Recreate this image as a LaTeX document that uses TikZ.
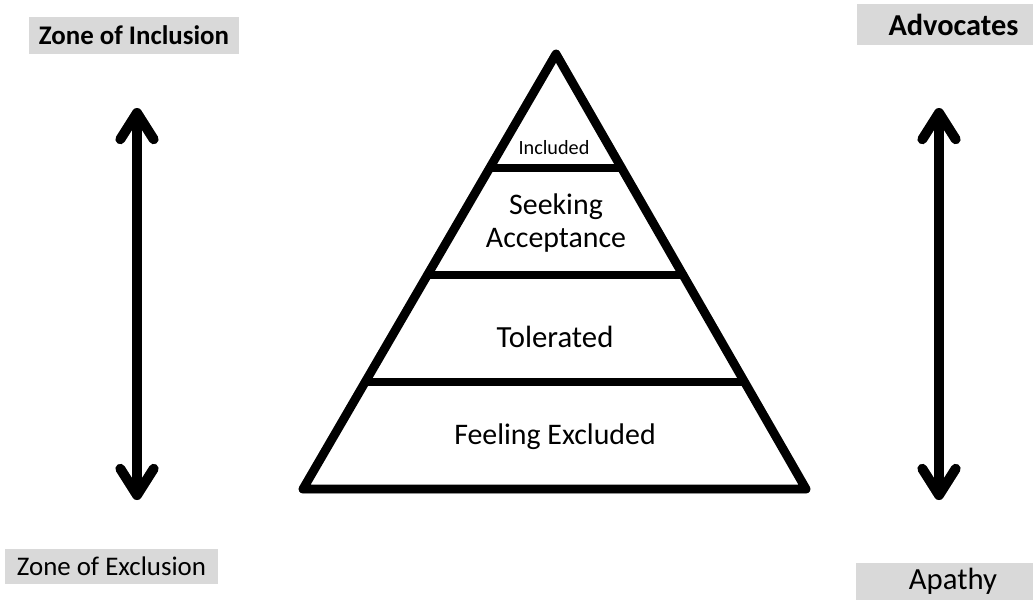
\documentclass[tikz,border=0pt]{standalone}
\usepackage{fontspec}
\setmainfont{Carlito}
\usetikzlibrary{arrows.meta,calc}
\definecolor{tagGray}{HTML}{D9D9D9}
\tikzset{
	tag/.style={fill=tagGray, inner sep=0pt, minimum height=0.74cm},
	level/.style={inner sep=0pt, align=center},
	bar/.style={line width=5pt, line cap=round, line join=round},
	barb/.tip={Straight Barb[length=15pt, width=19pt, line cap=round, line join=round]},
	updown/.style={bar, line width=5.6pt, barb-barb},
	shade/.style={draw=black!35, shift={(1.5,2.5)}}
}

\begin{document}
\begin{tikzpicture}[x=0.02cm, y=-0.02cm]

	\useasboundingbox (0,0) rectangle (1033,600);

	% pyramid corners
	\coordinate (apex) at (556,54);
	\coordinate (bl) at (303,489);
	\coordinate (br) at (806,489);

	% arrow ends
	\coordinate (inTop) at (137,108);
	\coordinate (inBot) at (137,500);
	\coordinate (adTop) at (939,108);
	\coordinate (adBot) at (939,500);

	% shadows
	\draw[bar, shade] (apex) -- (bl) -- (br) -- cycle;
	\draw[updown, shade] (inTop) -- (inBot);
	\draw[updown, shade] (adTop) -- (adBot);

	\draw[bar, fill=white] (apex) -- (bl) -- (br) -- cycle;
	\foreach \f in {0.262,0.508,0.754} {
		\draw[bar] ($(apex)!\f!(bl)$) -- ($(apex)!\f!(br)$);
	}

	\draw[updown] (inTop) -- (inBot);
	\draw[updown] (adTop) -- (adBot);

	\node[level, font=\fontsize{11.5}{13}\selectfont] (included) at (554,148) {Included};
	\node[level, font=\fontsize{17}{19.3}\selectfont] (seeking) at (556,223) {Seeking\\Acceptance};
	\node[level, font=\fontsize{17.5}{20}\selectfont] (tolerated) at (555,337) {Tolerated};
	\node[level, font=\fontsize{17}{20}\selectfont] (excluded) at (555,437) {Feeling Excluded};

	% side labels
	\node[tag, minimum width=4.2cm, font=\fontsize{15.3}{18}\selectfont\bfseries] (zoneIn) at (134,35.5) {Zone of Inclusion};
	\node[tag, minimum width=3.86cm, minimum height=0.82cm, font=\fontsize{17.3}{19}\selectfont\bfseries] (advocates) at (953.5,24.5) {Advocates};
	\node[tag, minimum width=4.26cm, minimum height=0.7cm, font=\fontsize{15.3}{18}\selectfont] (zoneEx) at (111.5,566.5) {Zone of Exclusion};
	\node[tag, minimum width=3.88cm, font=\fontsize{17.5}{20}\selectfont] (apathy) at (953,581.5) {Apathy};

\end{tikzpicture}
\end{document}
